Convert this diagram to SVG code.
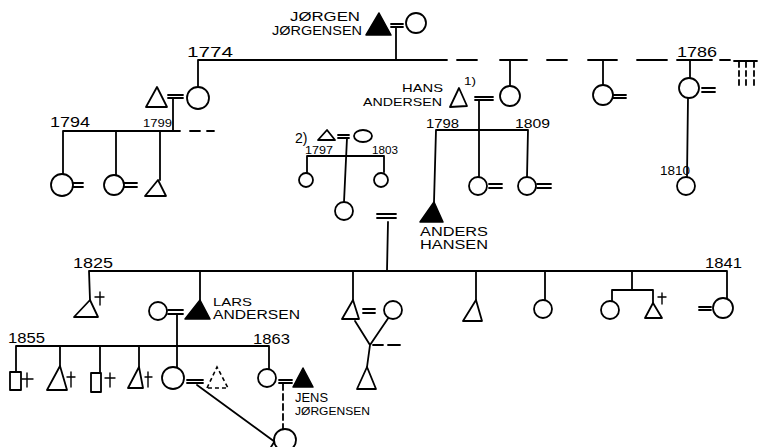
<svg xmlns="http://www.w3.org/2000/svg" width="760" height="447" viewBox="0 0 760 447">
<style>
.l{stroke:#000;stroke-width:1.8;fill:none;stroke-linecap:round;stroke-linejoin:round}
.d{stroke:#000;stroke-width:1.8;fill:none}
.m{fill:#fff;stroke:#000;stroke-width:1.8;stroke-linejoin:round}
.f{fill:#000;stroke:#000;stroke-width:1.5;stroke-linejoin:round}
.dm{fill:#fff;stroke:#000;stroke-width:1.6;stroke-dasharray:4,3}
.k{stroke:#000;stroke-width:1.4;fill:none}
text{font-family:"Liberation Sans",Arial,sans-serif;fill:#000}
.n{font-size:12px}
.y{font-size:15px}
.s{font-size:11px}
</style>
<rect width="760" height="447" fill="#fff"/>
<g id="connectors" class="l">
<path d="M391,24H403M391,27H403M396,27V60"/>
<path d="M198,88V60H447M500,60H527M588,60H617M677,60H712"/>
<path d="M457,60H477M547,60H567M637,60H667M720,60H730"/>
<path d="M734,61H744M743,61H750M750,61H757"/>
<path class="d" d="M739,62V88M746,62V88M754,62V88" stroke-dasharray="5,4"/>
<path d="M510,60V86M603,60V85M690,60V78"/>
<path d="M168,95H183M168,98H183M173,98V131M63,174V131H180M116,176V131M160,180V131"/>
<path d="M190,131H200M207,131H214"/>
<path d="M73,183H83M73,187H83M124,183H137M124,187H137"/>
<path d="M475,97H493M475,100H493M479,100V177M436,130H528M436,130L434,202M528,130L527,177M489,184H502M489,188H502M537,184H551M537,188H551"/>
<path d="M613,95H626M613,98H626"/>
<path d="M702,88H715M702,92H715M688,98L687,177"/>
<path d="M338,135H349M338,138H349M347,138L344,202M307,173V156H384V172"/>
<path d="M377,214H396M377,218H396M388,222L387,271"/>
<path d="M89,271H727M89,271L90,300M200,271V300M353,271V300M476,271V300M545,271V300M632,271V290M612,301V290H653V303M727,271V299"/>
<path d="M699,307H711M699,310H711"/>
<path d="M168,310H183M168,314H183M177,314V346M16,372V346H269V369M60,366V346M100,373V346M139,367V346M177,367V346"/>
<path d="M187,380H203M187,383H203M279,380H292M279,383H292"/>
<path d="M197,385L275,442M271,447L278,436"/>
<path class="d" d="M283,384V429" stroke-dasharray="6,4"/>
<path d="M363,309H375M363,313H375M355,321L370,345M389,317L370,345M370,345L367,367"/>
<path d="M373,345H383M388,345H400"/>
<path class="k" d="M100,292V305M95,297H104M27,373V387M22,379H33M71,372V387M67,377H75M110,373V387M105,378H115M148,372V387M145,377H152M662,293V304M658,297H666"/>
</g>
<g id="jorgen-jorgensen">
<polygon class="f" points="366,35 379,13 391,35"/>
<text class="n" x="290" y="21" textLength="70" lengthAdjust="spacingAndGlyphs">JØRGEN</text>
<text class="n" x="272" y="35" textLength="90" lengthAdjust="spacingAndGlyphs">JØRGENSEN</text>
</g>
<g id="jorgen-wife"><circle class="m" cx="416" cy="23" r="10"/></g>
<g id="label-1774"><text class="y" x="187" y="57" textLength="46" lengthAdjust="spacingAndGlyphs">1774</text></g>
<g id="daughter-1774"><circle class="m" cx="198" cy="98" r="11"/></g>
<g id="husband-1774"><polygon class="m" points="146,107 157,87 167,107"/></g>
<g id="label-1794"><text class="y" x="50" y="127" textLength="40" lengthAdjust="spacingAndGlyphs">1794</text></g>
<g id="label-1799"><text class="s" x="143" y="127" textLength="29" lengthAdjust="spacingAndGlyphs">1799</text></g>
<g id="gc1"><circle class="m" cx="62" cy="185" r="11"/></g>
<g id="gc2"><circle class="m" cx="114" cy="185" r="10"/></g>
<g id="gc3"><polygon class="m" points="145,196 158,180 166,196"/></g>
<g id="hans-andersen">
<polygon class="m" points="450,107 459,88 467,106"/>
<text class="s" x="402" y="92" textLength="41" lengthAdjust="spacingAndGlyphs">HANS</text>
<text class="s" x="363" y="106" textLength="79" lengthAdjust="spacingAndGlyphs">ANDERSEN</text>
<text class="s" x="464" y="85" textLength="12" lengthAdjust="spacingAndGlyphs">1)</text>
</g>
<g id="hans-wife"><circle class="m" cx="510" cy="96" r="10"/></g>
<g id="daughter-603"><circle class="m" cx="603" cy="95" r="10"/></g>
<g id="daughter-1786">
<text class="y" x="677" y="57" textLength="40" lengthAdjust="spacingAndGlyphs">1786</text>
<circle class="m" cx="689" cy="88" r="10"/>
</g>
<g id="child-1810">
<text class="n" x="660" y="175" textLength="30" lengthAdjust="spacingAndGlyphs">1810</text>
<circle class="m" cx="686" cy="186" r="9"/>
</g>
<g id="labels-1798-1809">
<text class="n" x="426" y="128" textLength="33" lengthAdjust="spacingAndGlyphs">1798</text>
<text class="n" x="515" y="128" textLength="35" lengthAdjust="spacingAndGlyphs">1809</text>
</g>
<g id="anders-hansen">
<polygon class="f" points="420,222 434,202 443,222"/>
<text class="n" x="420" y="236" textLength="68" lengthAdjust="spacingAndGlyphs">ANDERS</text>
<text class="n" x="420" y="249" textLength="68" lengthAdjust="spacingAndGlyphs">HANSEN</text>
</g>
<g id="hans-child2"><circle class="m" cx="478" cy="186" r="9"/></g>
<g id="hans-child3"><circle class="m" cx="527" cy="186" r="9"/></g>
<g id="second-marriage">
<text style="font-size:14px" x="295" y="143">2)</text>
<polygon class="m" points="318,140 327,130 335,140"/>
<ellipse class="m" cx="363" cy="136" rx="9" ry="6"/>
<text class="s" x="305" y="154" textLength="28" lengthAdjust="spacingAndGlyphs">1797</text>
<text class="s" x="372" y="154" textLength="26" lengthAdjust="spacingAndGlyphs">1803</text>
</g>
<g id="sm-child1"><circle class="m" cx="306" cy="180" r="7"/></g>
<g id="sm-child2"><circle class="m" cx="344" cy="211" r="9"/></g>
<g id="sm-child3"><circle class="m" cx="381" cy="180" r="7"/></g>
<g id="labels-1825-1841">
<text class="y" x="73" y="268" textLength="40" lengthAdjust="spacingAndGlyphs">1825</text>
<text class="y" x="705" y="268" textLength="37" lengthAdjust="spacingAndGlyphs">1841</text>
</g>
<g id="c1"><polygon class="m" points="74,317 90,300 98,317"/></g>
<g id="lars-andersen">
<polygon class="f" points="185,319 200,300 210,319"/>
<text class="s" x="213" y="306" textLength="39" lengthAdjust="spacingAndGlyphs">LARS</text>
<text class="n" x="213" y="319" textLength="87" lengthAdjust="spacingAndGlyphs">ANDERSEN</text>
</g>
<g id="lars-wife"><circle class="m" cx="158" cy="311" r="9"/></g>
<g id="c3">
<polygon class="m" points="342,319 353,300 359,319"/>
<circle class="m" cx="393" cy="310" r="9"/>
<polygon class="m" points="357,389 367,367 376,389"/>
</g>
<g id="c4"><polygon class="m" points="463,321 476,300 482,321"/></g>
<g id="c5"><circle class="m" cx="543" cy="309" r="9"/></g>
<g id="c6">
<circle class="m" cx="610" cy="310" r="9"/>
<polygon class="m" points="645,318 653,303 662,318"/>
</g>
<g id="c7"><circle class="m" cx="723" cy="308" r="10"/></g>
<g id="labels-1855-1863">
<text class="y" x="8" y="343" textLength="37" lengthAdjust="spacingAndGlyphs">1855</text>
<text class="y" x="253" y="344" textLength="37" lengthAdjust="spacingAndGlyphs">1863</text>
</g>
<g id="l1"><rect class="m" x="10" y="372" width="11" height="18"/></g>
<g id="l2"><polygon class="m" points="47,390 60,366 67,390"/></g>
<g id="l3"><rect class="m" x="91" y="373" width="10" height="19"/></g>
<g id="l4"><polygon class="m" points="128,388 139,367 143,388"/></g>
<g id="l5"><circle class="m" cx="173" cy="378" r="11"/></g>
<g id="l5-partner"><polygon class="dm" points="207,388 217,367 228,388"/></g>
<g id="l6"><circle class="m" cx="267" cy="378" r="9"/></g>
<g id="jens-jorgensen">
<polygon class="f" points="293,387 303,368 313,387"/>
<text class="n" x="295" y="402" textLength="33" lengthAdjust="spacingAndGlyphs">JENS</text>
<text class="s" x="295" y="415" textLength="75" lengthAdjust="spacingAndGlyphs">JØRGENSEN</text>
</g>
<g id="bottom-child"><circle class="m" cx="285" cy="440" r="11"/></g>
</svg>
